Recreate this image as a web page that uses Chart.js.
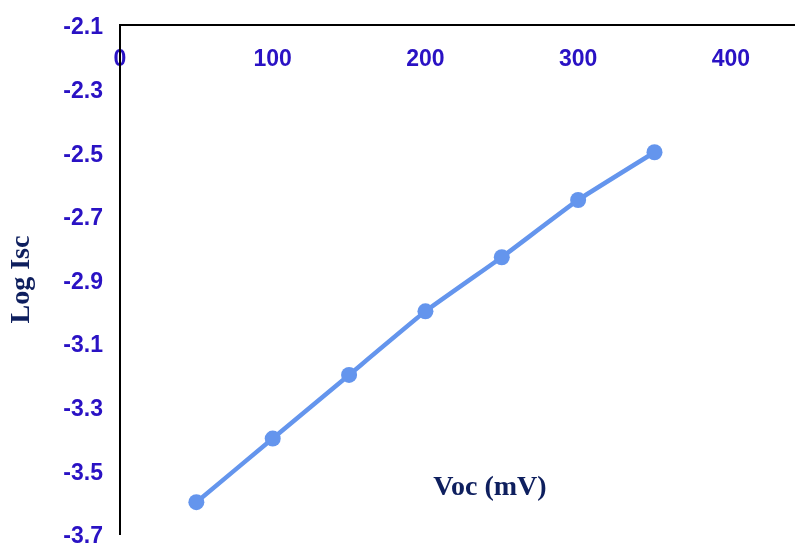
<!DOCTYPE html>
<html>
<head>
<meta charset="utf-8">
<script src="https://cdn.jsdelivr.net/npm/chart.js@4/dist/chart.umd.min.js"></script>
<style>
  html, body { margin: 0; padding: 0; background: #ffffff; }
  #wrap { width: 795px; height: 544px; position: relative; }
</style>
</head>
<body>
<div id="wrap"><canvas id="c"></canvas></div>
<script>
// Voc (mV) vs Log Isc measurements
const vocValues = [50, 100, 150, 200, 250, 300, 350];
const logIscValues = [-3.6, -3.4, -3.2, -3.0, -2.83, -2.65, -2.5];

// axis tick labels
const xTickValues = [0, 100, 200, 300, 400];
const yTickValues = [-3.7, -3.5, -3.3, -3.1, -2.9, -2.7, -2.5, -2.3, -2.1];

const tickColor = '#2a12c4';
const titleColor = '#0e1f5e';
const lineColor = '#6495ed';

// x-axis title sits inside the plot, below the curve
const innerXTitle = {
  id: 'innerXTitle',
  afterDraw(chart) {
    const ctx = chart.ctx;
    ctx.save();
    ctx.font = 'bold 28px "Liberation Serif", "Times New Roman", serif';
    ctx.fillStyle = titleColor;
    ctx.textAlign = 'center';
    ctx.textBaseline = 'middle';
    ctx.fillText('Voc (mV)', 490, 488);
    ctx.restore();
  }
};

new Chart(document.getElementById('c'), {
  type: 'line',
  data: {
    datasets: [{
      data: vocValues.map((v, i) => ({ x: v, y: logIscValues[i] })),
      borderColor: lineColor,
      backgroundColor: lineColor,
      borderWidth: 4.5,
      pointRadius: 8,
      pointHoverRadius: 8,
      pointBackgroundColor: lineColor,
      pointBorderWidth: 0,
      tension: 0.1,
      fill: false
    }]
  },
  options: {
    responsive: true,
    maintainAspectRatio: false,
    animation: false,
    layout: { autoPadding: false, padding: { top: 25, bottom: 10, left: 0, right: 0 } },
    plugins: {
      legend: { display: false },
      tooltip: { enabled: false }
    },
    scales: {
      x: {
        type: 'linear',
        position: { y: -2.1 },
        min: 0,
        max: 442,
        afterBuildTicks(scale) {
          scale.ticks = xTickValues.map(v => ({ value: v }));
        },
        afterFit(scale) {
          scale.paddingLeft = 0;
          scale.paddingRight = 0;
        },
        grid: { display: false, drawTicks: false },
        border: { display: true, color: '#000000', width: 2 },
        ticks: {
          color: tickColor,
          padding: 21,
          maxRotation: 0,
          font: { family: '"Liberation Sans", Arial, sans-serif', size: 23, weight: 'bold' },
          callback: v => String(v)
        }
      },
      y: {
        type: 'linear',
        min: -3.7,
        max: -2.1,
        afterBuildTicks(scale) {
          scale.ticks = yTickValues.map(v => ({ value: v }));
        },
        afterFit(scale) {
          scale.width = 120;
          scale.paddingTop = 0;
          scale.paddingBottom = 0;
        },
        grid: { display: false, drawTicks: false },
        border: { display: true, color: '#000000', width: 2 },
        ticks: {
          color: tickColor,
          padding: 17,
          labelOffset: 3,
          font: { family: '"Liberation Sans", Arial, sans-serif', size: 23, weight: 'bold' },
          callback: v => Number(v).toFixed(1)
        },
        title: {
          display: true,
          text: 'Log Isc',
          color: titleColor,
          padding: { top: 5, bottom: 0 },
          font: { family: '"Liberation Serif", "Times New Roman", serif', size: 28, weight: 'bold' }
        }
      }
    }
  },
  plugins: [innerXTitle]
});
</script>
</body>
</html>
